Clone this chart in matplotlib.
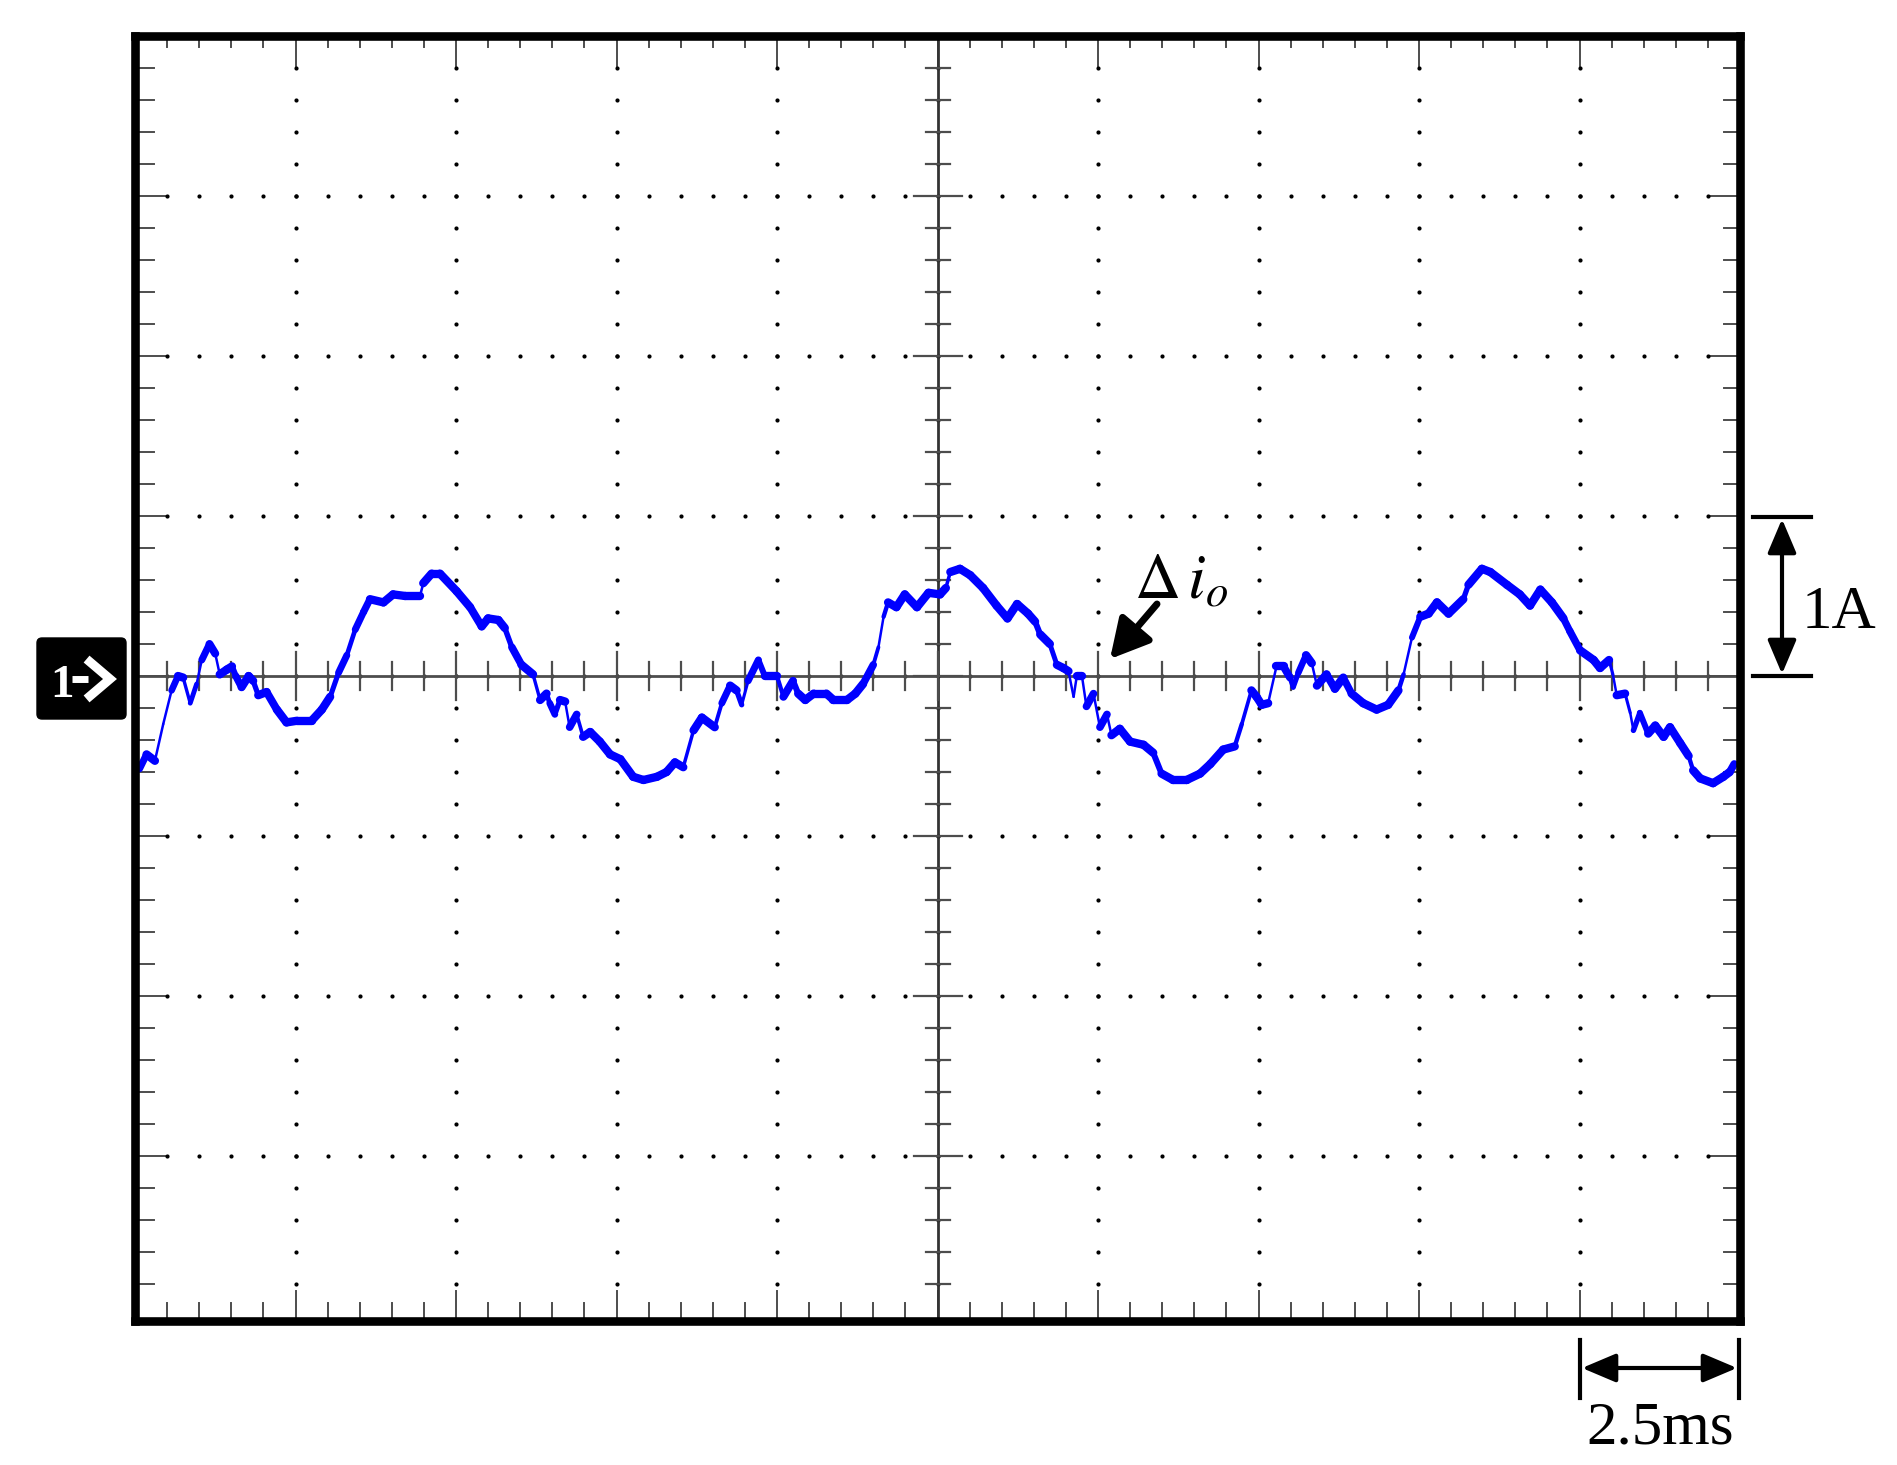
import numpy as np
import matplotlib.pyplot as plt
from matplotlib.collections import LineCollection
from matplotlib.patches import FancyBboxPatch

plt.rcParams['font.family'] = ['Liberation Serif', 'DejaVu Serif']
plt.rcParams['mathtext.fontset'] = 'stix'

# traza del osciloscopio: tiempo en ms (2.5 ms/div), corriente en A (1 A/div)
tiempo_ms = [
    0.07, 0.18, 0.31, 0.44, 0.57, 0.67, 0.75, 0.86, 0.96, 1.04,
    1.16, 1.25, 1.32, 1.43, 1.51, 1.57, 1.66, 1.77, 1.84, 1.92,
    2.05, 2.21, 2.36, 2.52, 2.75, 2.91, 3.04, 3.17, 3.30, 3.43,
    3.56, 3.66, 3.87, 4.02, 4.21, 4.44, 4.49, 4.62, 4.75, 5.01,
    5.22, 5.40, 5.50, 5.66, 5.76, 5.87, 6.02, 6.20, 6.31, 6.41, 6.46,
    6.54, 6.62, 6.70, 6.77, 6.88, 6.98, 7.09, 7.24, 7.40, 7.56,
    7.76, 7.92, 8.13, 8.28, 8.41, 8.54, 8.70, 8.83, 9.03, 9.14,
    9.27, 9.37, 9.45, 9.55, 9.71, 9.81, 10.00, 10.10, 10.25, 10.33,
    10.44, 10.57, 10.77, 10.88, 11.09, 11.22, 11.34, 11.50, 11.58, 11.66,
    11.73, 11.86, 11.99, 12.18, 12.36, 12.54, 12.63, 12.70,
    12.85, 13.01, 13.21, 13.42, 13.59, 13.74, 13.91, 14.02, 14.10, 14.25,
    14.36, 14.46, 14.54, 14.62, 14.67, 14.75, 14.82, 14.93, 15.03, 15.14,
    15.21, 15.34, 15.50, 15.71, 15.86, 15.99, 16.17, 16.38, 16.59, 16.75,
    16.95, 17.13, 17.24, 17.39, 17.47, 17.55, 17.65, 17.78, 17.89, 17.99,
    18.04, 18.12, 18.24, 18.33, 18.41, 18.56, 18.69, 18.82, 18.95,
    19.13, 19.34, 19.52, 19.68, 19.76, 19.89, 20.02, 20.15, 20.28, 20.46,
    20.69, 20.77, 20.98, 21.11, 21.37, 21.57, 21.73, 21.89, 22.07, 22.25,
    22.35, 22.51, 22.72, 22.82, 22.96, 23.02, 23.08, 23.21, 23.29, 23.34,
    23.44, 23.57, 23.68, 23.81, 23.91, 24.07, 24.20, 24.27, 24.38, 24.58,
    24.74, 24.84, 24.91,
]
corriente_a = [
    -0.58, -0.49, -0.53, -0.30, -0.09, 0.00, -0.01, -0.17, -0.05, 0.10,
    0.20, 0.14, 0.01, 0.04, 0.06, 0.00, -0.07, 0.00, -0.03, -0.12,
    -0.10, -0.21, -0.29, -0.28, -0.28, -0.21, -0.13, 0.02, 0.13, 0.29,
    0.40, 0.48, 0.46, 0.51, 0.50, 0.50, 0.58, 0.64, 0.64, 0.53,
    0.43, 0.31, 0.36, 0.35, 0.30, 0.18, 0.07, 0.01, -0.15, -0.11, -0.17,
    -0.24, -0.15, -0.16, -0.32, -0.24, -0.38, -0.35, -0.41, -0.49, -0.52,
    -0.63, -0.65, -0.63, -0.60, -0.54, -0.57, -0.34, -0.26, -0.32, -0.17,
    -0.06, -0.09, -0.18, -0.03, 0.10, 0.00, 0.00, -0.13, -0.03, -0.11,
    -0.15, -0.11, -0.11, -0.15, -0.15, -0.11, -0.05, 0.07, 0.18, 0.37,
    0.46, 0.43, 0.51, 0.43, 0.52, 0.51, 0.55, 0.65,
    0.67, 0.63, 0.55, 0.44, 0.36, 0.45, 0.39, 0.34, 0.26, 0.20,
    0.07, 0.05, 0.03, -0.13, 0.00, 0.00, -0.19, -0.11, -0.32, -0.24,
    -0.37, -0.33, -0.41, -0.43, -0.48, -0.61, -0.65, -0.65, -0.61, -0.55,
    -0.46, -0.44, -0.30, -0.09, -0.13, -0.18, -0.17, 0.06, 0.06, -0.01,
    -0.07, 0.02, 0.13, 0.08, -0.06, 0.01, -0.08, -0.01, -0.11,
    -0.17, -0.21, -0.18, -0.09, 0.01, 0.24, 0.37, 0.39, 0.46, 0.39,
    0.48, 0.57, 0.67, 0.65, 0.57, 0.51, 0.44, 0.54, 0.46, 0.36,
    0.28, 0.16, 0.10, 0.05, 0.10, 0.01, -0.12, -0.11, -0.23, -0.34,
    -0.23, -0.36, -0.31, -0.38, -0.32, -0.42, -0.50, -0.59, -0.64, -0.67,
    -0.63, -0.60, -0.55,
]

ms_por_div = 2.5
a_por_div = 1.0
n_div_x = 10
n_div_y = 8

W, H = 1897, 1465
fig = plt.figure(figsize=(W / 100, H / 100), dpi=100)
ax = fig.add_axes([135 / W, (H - 1321) / H, 1605 / W, 1285 / H])
t_max = n_div_x * ms_por_div
y_max = n_div_y / 2 * a_por_div

# tamano de un pixel en unidades de datos
px_x = t_max / 1605
px_y = 2 * y_max / 1280
y_min = -y_max - 5 * px_y   # el marco inferior queda un poco mas abajo

ax.set_xlim(0, t_max)
ax.set_ylim(y_min, y_max)
ax.set_xticks([])
ax.set_yticks([])
for s in ax.spines.values():
    s.set_linewidth(6.2)
    s.set_color('k')
    s.set_zorder(10)

gris = '#4d4d4d'

xs_min = np.arange(0, t_max + 1e-6, ms_por_div / 5)
ys_min = np.arange(-y_max, y_max + 1e-6, a_por_div / 5)

def es_div(v, paso):
    return abs(v / paso - round(v / paso)) < 1e-6

# marcas en el marco
for x in xs_min[1:-1]:
    g = es_div(x, ms_por_div)
    ax.plot([x, x], [y_max, y_max - (30 if g else 11) * px_y], color=gris, lw=1.4)
    ax.plot([x, x], [y_min, y_min + (30 if g else 18) * px_y], color=gris, lw=1.4)
for y in ys_min[1:-1]:
    g = es_div(y, a_por_div)
    ax.plot([0, (30 if g else 19) * px_x], [y, y], color=gris, lw=1.4)
    ax.plot([t_max, t_max - (30 if g else 16) * px_x], [y, y], color=gris, lw=1.4)

# retícula de puntos
for k in range(1, n_div_x):
    ax.plot(np.full(len(ys_min) - 2, k * ms_por_div), ys_min[1:-1], 'o',
            color='k', ms=3.0, mec='none')
for k in range(1, n_div_y):
    y = -y_max + k * a_por_div
    ax.plot(xs_min[1:-1], np.full(len(xs_min) - 2, y), 'o',
            color='k', ms=3.0, mec='none')

# ejes centrales con marcas
xc = t_max / 2
ax.axhline(0, color=gris, lw=2.0)
ax.axvline(xc, color='#333333', lw=2.0)
for x in xs_min[1:-1]:
    h = (24 if es_div(x, ms_por_div) else 14) * px_y
    ax.plot([x, x], [-h, h], color=gris, lw=1.6)
for y in ys_min[1:-1]:
    h = (24 if es_div(y, a_por_div) else 12) * px_x
    ax.plot([xc - h, xc + h], [y, y], color=gris, lw=1.6)

# traza: gruesa donde es lenta, fina donde es rapida
t = np.array(tiempo_ms)
i = np.array(corriente_a)
pts = np.column_stack([t, i]).reshape(-1, 1, 2)
segs = np.concatenate([pts[:-1], pts[1:]], axis=1)
pend = np.abs(np.diff(i) / px_y) / np.maximum(np.abs(np.diff(t) / px_x), 1e-6)
anchos = np.interp(pend, [1.5, 4.0], [6.0, 1.8])
lc = LineCollection(segs, colors='#0000ff', linewidths=anchos, capstyle='round',
                    joinstyle='round', zorder=5)
ax.add_collection(lc)

# capa de anotaciones en pixeles
ov = fig.add_axes([0, 0, 1, 1])
ov.set_xlim(0, W)
ov.set_ylim(H, 0)
ov.axis('off')
ov.patch.set_alpha(0)

caja = FancyBboxPatch((37, 638), 89, 81, boxstyle='round,pad=0,rounding_size=5',
                      fc='k', ec='k')
ov.add_patch(caja)
ov.text(62, 697, '1', color='white', fontsize=34, fontweight='bold',
        ha='center', va='baseline')
ov.plot([72, 88], [679, 679], color='white', lw=5, solid_capstyle='butt')
ov.plot([90, 110, 90], [662, 679, 696], color='white', lw=6.5,
        solid_joinstyle='miter')

ov.text(1134, 598, r'$\Delta\, i_o$', fontsize=46, ha='left', va='baseline')
ov.annotate('', xy=(1110, 659), xytext=(1157, 604),
            arrowprops=dict(arrowstyle='-|>,head_length=1.3,head_width=0.7',
                            mutation_scale=18, lw=5, color='k',
                            shrinkA=0, shrinkB=0))

# escala vertical 1A
ov.plot([1753, 1811], [517, 517], color='k', lw=3)
ov.plot([1753, 1811], [676, 676], color='k', lw=3)
ov.annotate('', xy=(1782, 519), xytext=(1782, 674),
            arrowprops=dict(arrowstyle='<|-|>,head_length=1.3,head_width=0.55',
                            mutation_scale=16, lw=3, color='k',
                            shrinkA=0, shrinkB=0))
ov.text(1802, 628, '1A', fontsize=44, ha='left', va='baseline')

# escala horizontal 2.5ms
ov.plot([1580, 1580], [1340, 1398], color='k', lw=3)
ov.plot([1739, 1739], [1340, 1398], color='k', lw=3)
ov.annotate('', xy=(1582, 1368), xytext=(1737, 1368),
            arrowprops=dict(arrowstyle='<|-|>,head_length=1.3,head_width=0.55',
                            mutation_scale=16, lw=3, color='k',
                            shrinkA=0, shrinkB=0))
ov.text(1586, 1443, '2.5ms', fontsize=44, ha='left', va='baseline')

fig.savefig('out.png', dpi=100, facecolor='white')
